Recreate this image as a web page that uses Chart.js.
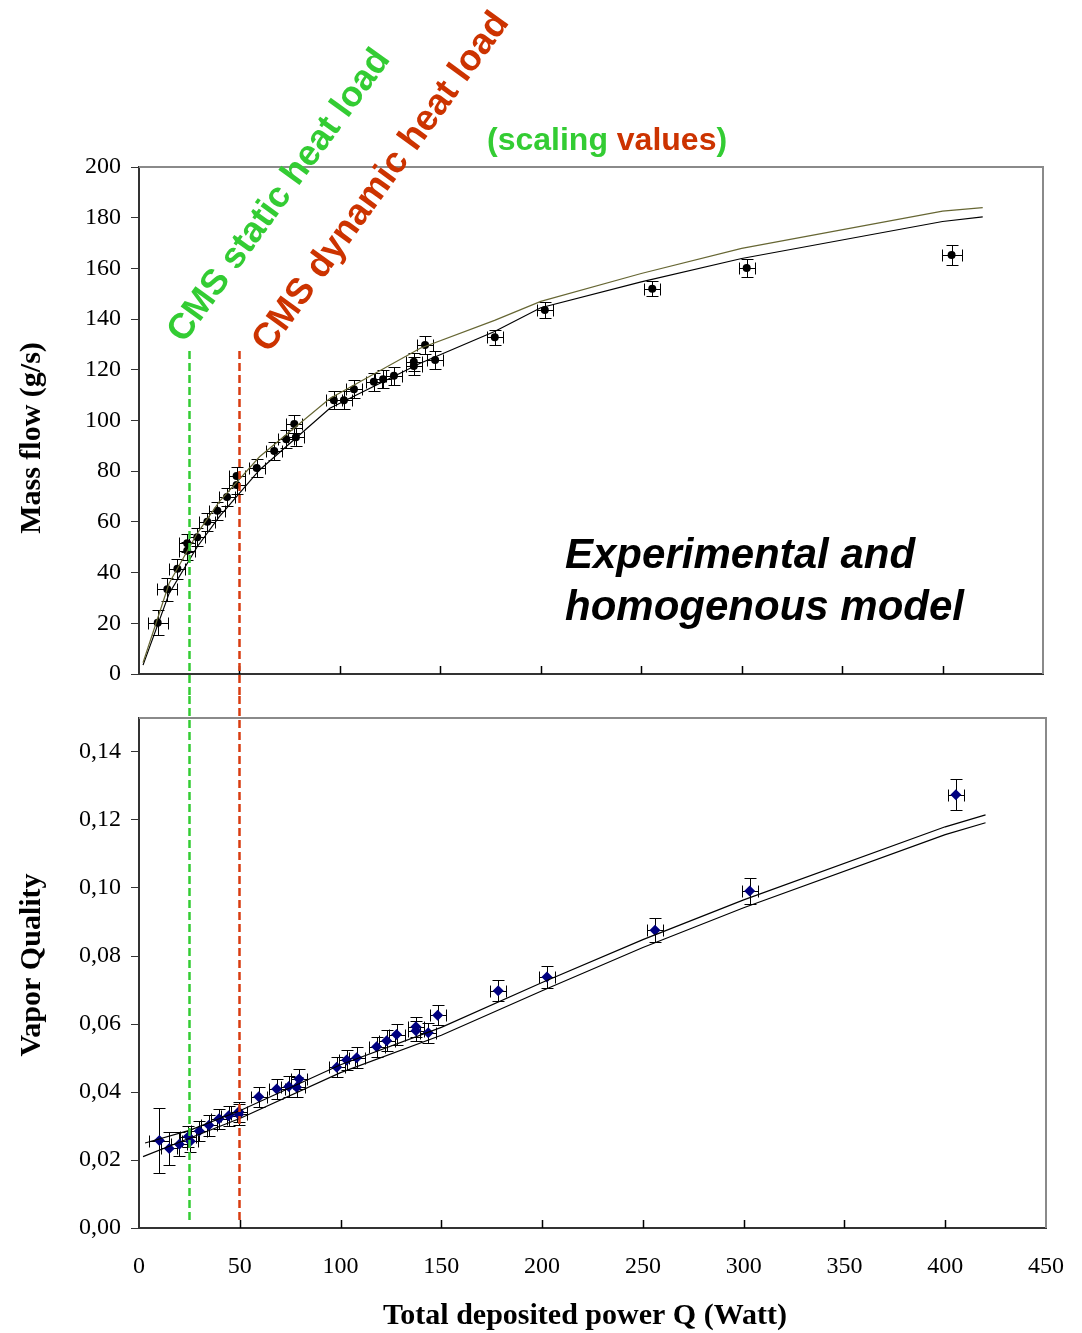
<!DOCTYPE html>
<html>
<head>
<meta charset="utf-8">
<script src="https://cdn.jsdelivr.net/npm/chart.js@4.4.1/dist/chart.umd.min.js"></script>
<style>
  html, body { margin: 0; padding: 0; background: #ffffff; }
  #wrap { position: relative; width: 1082px; height: 1333px; }
  #c1 { position: absolute; left: 0; top: 0; }
  #c2 { position: absolute; left: 0; top: 696px; }
</style>
</head>
<body>
<div id="wrap">
  <canvas id="c1" width="1082" height="696"></canvas>
  <canvas id="c2" width="1082" height="637"></canvas>
</div>
<script>
// ---------- DATA ----------
// Top panel: experimental mass flow (g/s) vs total deposited power (W)
const massPower = [9.3, 14.1, 19.1, 24.0, 24.0, 29.0, 34.0, 39.0, 43.8, 48.6, 48.6, 58.6, 67.3, 73.3, 77.3, 78.1, 97.0, 102.0, 107.0, 116.9, 121.5, 126.9, 136.8, 136.8, 142.4, 147.4, 177.1, 202.0, 255.5, 302.5, 404.5];
const massFlow  = [20.2, 33.4, 41.5, 51.6, 48.6, 53.9, 60.1, 64.4, 69.8, 78.1, 74.6, 81.3, 88.0, 92.6, 98.6, 93.4, 108.0, 108.0, 112.3, 115.3, 116.3, 117.7, 123.2, 121.5, 129.8, 123.9, 132.8, 143.6, 152.0, 160.2, 165.3];
const massErrY  = [5, 4.5, 4, 3.5, 3.5, 3.5, 3.5, 3.5, 3.5, 3.5, 3.5, 3.5, 3.5, 3.5, 3.5, 3.5, 3.5, 3.5, 3.5, 3.5, 3.5, 3.5, 3.5, 3.5, 3.5, 3.5, 3, 3, 3, 3.5, 4];
const massErrX  = [5, 5, 4, 4, 4, 4, 4, 4, 4, 4, 4, 4, 4, 4, 4, 4, 4, 4, 4, 4, 4, 4, 4, 4, 4, 4, 4, 4, 4, 4, 5];

// Top panel: homogenous model curves
const modelMassPower = [2, 9, 15, 29, 40, 60, 95, 140, 177, 200, 250, 300, 400, 420];
const modelMassUpper = [4.5, 21.3, 35.8, 55.5, 68.0, 85.7, 108.7, 128.5, 139.5, 147.0, 158.0, 167.9, 182.6, 184.0];
const modelMassLower = [3.5, 18.7, 31.8, 50.2, 62.1, 80.5, 104.8, 122.6, 135.1, 144.5, 154.7, 163.9, 178.5, 180.3];

// Bottom panel: experimental vapor quality
const vapPower   = [10.1, 15.0, 20.0, 24.5, 25.5, 29.9, 34.7, 39.7, 44.5, 49.5, 49.5, 59.4, 68.3, 74.3, 78.2, 79.4, 98.1, 103.0, 108.0, 117.9, 122.9, 127.8, 137.4, 137.4, 143.5, 148.2, 178.2, 202.4, 256.0, 303.0, 405.3];
const vapQuality = [0.0257, 0.0234, 0.0246, 0.0269, 0.0255, 0.0285, 0.0302, 0.0321, 0.0330, 0.0342, 0.0334, 0.0386, 0.0409, 0.0416, 0.0414, 0.0438, 0.0473, 0.0494, 0.0501, 0.0533, 0.0551, 0.0569, 0.0592, 0.0580, 0.0574, 0.0626, 0.0698, 0.0738, 0.0876, 0.0991, 0.1274];
const vapErrY    = [0.0095, 0.0048, 0.0035, 0.003, 0.003, 0.003, 0.003, 0.003, 0.003, 0.003, 0.003, 0.003, 0.003, 0.003, 0.003, 0.003, 0.003, 0.003, 0.003, 0.003, 0.003, 0.003, 0.003, 0.003, 0.003, 0.003, 0.0031, 0.0032, 0.0035, 0.0037, 0.0046];
const vapErrX    = [5, 4, 4, 4, 4, 4, 4, 4, 4, 4, 4, 4, 4, 4, 4, 4, 4, 4, 4, 4, 4, 4, 4, 4, 4, 4, 4, 4, 4, 4, 4];

// Bottom panel: model lines
const modelVapPowerUpper = [3, 25, 50, 100, 150, 200, 250, 300, 400, 420];
const modelVapUpper      = [0.0250, 0.0287, 0.0345, 0.0480, 0.0590, 0.0722, 0.0848, 0.0965, 0.1180, 0.1215];
const modelVapPowerLower = [2, 25, 50, 100, 150, 200, 250, 300, 400, 420];
const modelVapLower      = [0.0210, 0.0264, 0.0322, 0.0457, 0.0567, 0.0698, 0.0825, 0.0942, 0.1157, 0.1192];

// Heat-load markers (W)
const staticHeatLoad = 25;
const dynamicHeatLoad = 50;

// Tick values
const massTicks = [0, 20, 40, 60, 80, 100, 120, 140, 160, 180, 200];
const vapTicks  = [0, 0.02, 0.04, 0.06, 0.08, 0.10, 0.12, 0.14];
const powerTicks = [0, 50, 100, 150, 200, 250, 300, 350, 400, 450];

// ---------- STYLE ----------
const GREEN = '#33cc33';
const RED = '#cc3300';
const DASH_RED = '#d83c10';
const AXIS = '#333333';
const FRAME = '#8a8a8a';
const SERIF = '"Liberation Serif", "Times New Roman", serif';
const SANS = '"Liberation Sans", Arial, sans-serif';

const toXY = (xs, ys) => xs.map((x, i) => ({ x: x, y: ys[i] }));

// error bars (drawn beneath markers)
const errorBars = {
  id: 'errorBars',
  beforeDatasetsDraw(chart) {
    const ctx = chart.ctx, xs = chart.scales.x, ys = chart.scales.y;
    chart.data.datasets.forEach((ds, di) => {
      if (!ds.errY) return;
      ctx.save();
      ctx.strokeStyle = '#000';
      ctx.lineWidth = 1;
      ds.data.forEach((p, i) => {
        const cx = Math.round(xs.getPixelForValue(p.x)) + 0.5;
        const cy = Math.round(ys.getPixelForValue(p.y)) + 0.5;
        const yt = Math.round(ys.getPixelForValue(p.y + ds.errY[i])) + 0.5;
        const yb = Math.round(ys.getPixelForValue(p.y - ds.errY[i])) + 0.5;
        const xl = Math.round(xs.getPixelForValue(p.x - ds.errX[i])) + 0.5;
        const xr = Math.round(xs.getPixelForValue(p.x + ds.errX[i])) + 0.5;
        const cap = 6;
        ctx.beginPath();
        ctx.moveTo(cx, yt); ctx.lineTo(cx, yb);
        ctx.moveTo(cx - cap, yt); ctx.lineTo(cx + cap, yt);
        ctx.moveTo(cx - cap, yb); ctx.lineTo(cx + cap, yb);
        ctx.moveTo(xl, cy); ctx.lineTo(xr, cy);
        ctx.moveTo(xl, cy - cap); ctx.lineTo(xl, cy + cap);
        ctx.moveTo(xr, cy - cap); ctx.lineTo(xr, cy + cap);
        ctx.stroke();
      });
      ctx.restore();
    });
  }
};

// gray top/right frame + inward x ticks
const frame = {
  id: 'frame',
  beforeDatasetsDraw(chart) {
    const { ctx, chartArea: a } = chart;
    ctx.save();
    ctx.strokeStyle = FRAME;
    ctx.lineWidth = 2;
    ctx.beginPath();
    ctx.moveTo(a.left, a.top); ctx.lineTo(a.right, a.top); ctx.lineTo(a.right, a.bottom);
    ctx.stroke();
    const xs = chart.scales.x;
    ctx.strokeStyle = '#000';
    ctx.lineWidth = 1.5;
    ctx.beginPath();
    powerTicks.forEach(v => {
      if (v === 0 || v === 450) return;
      const x = Math.round(xs.getPixelForValue(v)) + 0.5;
      ctx.moveTo(x, a.bottom - 8); ctx.lineTo(x, a.bottom);
    });
    ctx.stroke();
    ctx.restore();
  }
};

function drawHeatLines(chart, y0, y1) {
  const ctx = chart.ctx, xs = chart.scales.x;
  ctx.save();
  ctx.lineWidth = 2.5;
  ctx.setLineDash([8, 4]);
  [[staticHeatLoad, GREEN], [dynamicHeatLoad, DASH_RED]].forEach(([v, c]) => {
    const x = Math.floor(xs.getPixelForValue(v)) + 0.5;
    ctx.strokeStyle = c;
    ctx.beginPath();
    ctx.moveTo(x, y0); ctx.lineTo(x, y1);
    ctx.stroke();
  });
  ctx.restore();
}

const topDecor = {
  id: 'topDecor',
  afterDraw(chart) {
    const ctx = chart.ctx;
    drawHeatLines(chart, 351, chart.height);
    ctx.save();
    // rotated annotations
    const ang = -54 * Math.PI / 180;
    ctx.textBaseline = 'alphabetic';
    ctx.textAlign = 'left';
    ctx.font = 'bold 36px ' + SANS;
    ctx.save();
    ctx.translate(184, 344); ctx.rotate(ang);
    ctx.fillStyle = GREEN; ctx.fillText('CMS static heat load', 0, 0);
    ctx.restore();
    ctx.font = 'bold 36.5px ' + SANS;
    ctx.save();
    ctx.translate(269, 354); ctx.rotate(ang);
    ctx.fillStyle = RED; ctx.fillText('CMS dynamic heat load', 0, 0);
    ctx.restore();
    // (scaling values)
    ctx.font = 'bold 32px ' + SANS;
    const p1 = '(scaling ';
    ctx.fillStyle = GREEN; ctx.fillText(p1, 487, 150);
    const w1 = ctx.measureText(p1).width;
    ctx.fillStyle = RED; ctx.fillText('values', 487 + w1, 150);
    const w2 = ctx.measureText('values').width;
    ctx.fillStyle = GREEN; ctx.fillText(')', 487 + w1 + w2, 150);
    // experimental label
    ctx.fillStyle = '#000';
    ctx.font = 'italic bold 42px ' + SANS;
    ctx.fillText('Experimental and', 565, 568);
    ctx.fillText('homogenous model', 565, 620);
    // y title
    ctx.save();
    ctx.translate(32, 438); ctx.rotate(-Math.PI / 2);
    ctx.font = 'bold 30px ' + SERIF;
    ctx.textAlign = 'center'; ctx.textBaseline = 'middle';
    ctx.fillText('Mass flow (g/s)', 0, 0);
    ctx.restore();
    ctx.restore();
  }
};

const bottomDecor = {
  id: 'bottomDecor',
  afterDraw(chart) {
    const ctx = chart.ctx;
    drawHeatLines(chart, 0, 526);
    ctx.save();
    ctx.fillStyle = '#000';
    ctx.font = 'bold 30px ' + SERIF;
    ctx.textAlign = 'center'; ctx.textBaseline = 'middle';
    ctx.save();
    ctx.translate(32, 269); ctx.rotate(-Math.PI / 2);
    ctx.fillText('Vapor Quality', 0, 0);
    ctx.restore();
    ctx.fillText('Total deposited power Q (Watt)', 585, 620);
    ctx.restore();
  }
};

const yTickFont = { family: SERIF, size: 24 };
const noOverflow = s => { s.paddingLeft = 0; s.paddingRight = 0; s.paddingTop = 0; s.paddingBottom = 0; };

// ---------- TOP CHART ----------
new Chart(document.getElementById('c1'), {
  type: 'scatter',
  data: {
    datasets: [
      { label: 'Model (upper)', data: toXY(modelMassPower, modelMassUpper), showLine: true, borderColor: '#666633', borderWidth: 1.2, pointRadius: 0, tension: 0 },
      { label: 'Model (lower)', data: toXY(modelMassPower, modelMassLower), showLine: true, borderColor: '#000', borderWidth: 1.2, pointRadius: 0, tension: 0 },
      { label: 'Experimental', data: toXY(massPower, massFlow), errY: massErrY, errX: massErrX, pointStyle: 'circle', pointRadius: 4, backgroundColor: '#000', borderColor: '#000', borderWidth: 0 }
    ]
  },
  options: {
    responsive: false, animation: false,
    layout: { padding: { left: 0, top: 167, right: 39, bottom: 0 } },
    plugins: { legend: { display: false }, tooltip: { enabled: false } },
    scales: {
      x: {
        type: 'linear', min: 0, max: 450,
        ticks: { display: false, stepSize: 50 },
        grid: { display: false, drawTicks: false },
        border: { display: true, color: AXIS, width: 2 },
        afterFit(s) { s.height = 22; noOverflow(s); }
      },
      y: {
        type: 'linear', min: 0, max: 200,
        afterBuildTicks(s) { s.ticks = massTicks.map(v => ({ value: v })); },
        ticks: { font: yTickFont, color: '#000', padding: 10 },
        grid: { drawOnChartArea: false, drawTicks: true, tickLength: 8, color: AXIS },
        border: { display: true, color: AXIS, width: 2 },
        afterFit(s) { s.width = 139; noOverflow(s); }
      }
    }
  },
  plugins: [frame, errorBars, topDecor]
});

// ---------- BOTTOM CHART ----------
new Chart(document.getElementById('c2'), {
  type: 'scatter',
  data: {
    datasets: [
      { label: 'Model (upper)', data: toXY(modelVapPowerUpper, modelVapUpper), showLine: true, borderColor: '#000', borderWidth: 1.2, pointRadius: 0, tension: 0 },
      { label: 'Model (lower)', data: toXY(modelVapPowerLower, modelVapLower), showLine: true, borderColor: '#000', borderWidth: 1.2, pointRadius: 0, tension: 0 },
      { label: 'Experimental', data: toXY(vapPower, vapQuality), errY: vapErrY, errX: vapErrX, pointStyle: 'rectRot', pointRadius: 5.5, backgroundColor: '#000080', borderColor: '#000080', borderWidth: 0 }
    ]
  },
  options: {
    responsive: false, animation: false,
    layout: { padding: { left: 0, top: 22, right: 36, bottom: 0 } },
    plugins: { legend: { display: false }, tooltip: { enabled: false } },
    scales: {
      x: {
        type: 'linear', min: 0, max: 450,
        afterBuildTicks(s) { s.ticks = powerTicks.map(v => ({ value: v })); },
        ticks: { font: yTickFont, color: '#000', padding: 24, maxRotation: 0 },
        grid: { display: false, drawTicks: false },
        border: { display: true, color: AXIS, width: 2 },
        afterFit(s) { s.height = 105; noOverflow(s); }
      },
      y: {
        type: 'linear', min: 0, max: 0.15,
        afterBuildTicks(s) { s.ticks = vapTicks.map(v => ({ value: v })); },
        ticks: { font: yTickFont, color: '#000', padding: 10, callback: v => v.toFixed(2).replace('.', ',') },
        grid: { drawOnChartArea: false, drawTicks: true, tickLength: 8, color: AXIS },
        border: { display: true, color: AXIS, width: 2 },
        afterFit(s) { s.width = 139; noOverflow(s); }
      }
    }
  },
  plugins: [frame, errorBars, bottomDecor]
});
</script>
</body>
</html>
